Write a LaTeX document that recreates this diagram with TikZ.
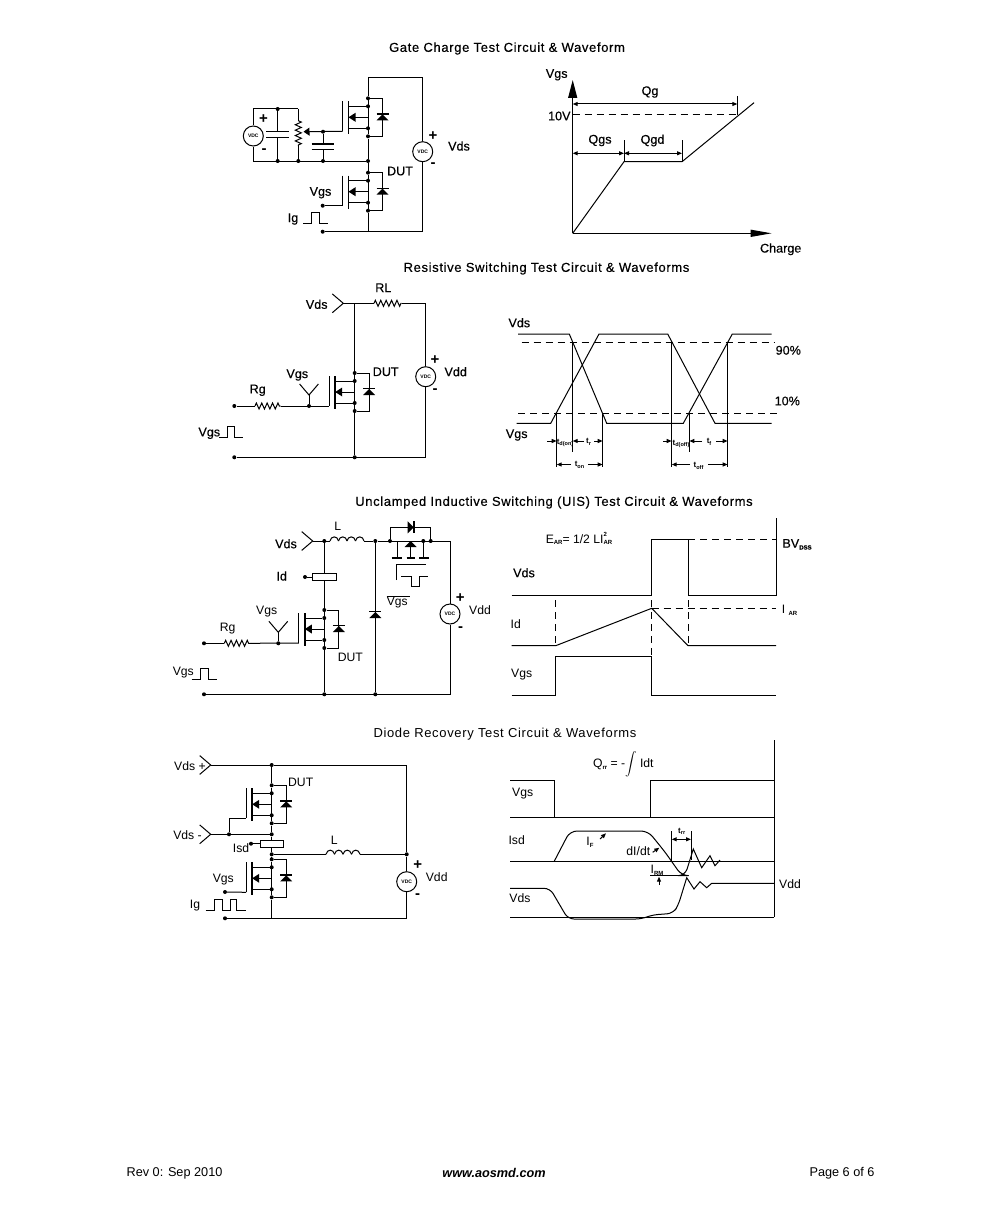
\documentclass[tikz,border=0pt]{standalone}
\usepackage{fontspec}
\setmainfont{Liberation Sans}
\newfontfamily\titlefont[LetterSpace=5,FakeBold=0.35]{Liberation Sans}
\newfontfamily\titlethin[LetterSpace=5]{Liberation Sans}
\newfontfamily\semifont[FakeBold=0.4]{Liberation Sans}
\usetikzlibrary{arrows.meta}
\usetikzlibrary{decorations.pathmorphing}
\usetikzlibrary{positioning}
\newcommand{\lowtxt}[1]{\raisebox{-1.8pt}{\fontsize{6}{6}\selectfont\bfseries #1}}
\newcommand{\tlab}[1]{t\raisebox{-1.5pt}{\fontsize{5.5}{5.5}\selectfont\bfseries #1}}
\tikzset{
  wire/.style={line width=1pt},
  dashw/.style={line width=1pt, dash pattern=on 7pt off 5pt},
  dotj/.style={circle, fill=black, inner sep=0pt, minimum size=4pt},
  resistor/.style={line width=1pt, decorate, decoration={zigzag, amplitude=3pt, segment length=5.4pt}},
  vdcsrc/.style={draw, circle, fill=white, line width=1pt, inner sep=0pt, minimum size=20pt, font=\fontsize{5}{5}\selectfont\bfseries},
  sensebox/.style={draw, fill=white, line width=1pt, inner sep=0pt, minimum width=23.4pt, minimum height=7.4pt},
  lab/.style={inner sep=0pt, yshift=-1pt, font=\fontsize{12.2}{12}\selectfont},
  labb/.style={inner sep=0pt, yshift=-1pt, font=\fontsize{12.6}{12}\selectfont\semifont},
  sym/.style={inner sep=0pt, font=\fontsize{15}{15}\selectfont\bfseries},
  tiny lab/.style={inner sep=0pt, font=\fontsize{8}{8}\selectfont\bfseries},
  title/.style={inner sep=0pt, yshift=-1.5pt, font=\fontsize{13}{13}\selectfont\titlefont},
  dim/.style={line width=1pt, {Triangle[length=5pt,width=4pt]}-{Triangle[length=5pt,width=4pt]}},
  tip/.style={line width=1pt, -{Triangle[length=5pt,width=4pt]}},
  diode/.pic={
    \fill (-6,3) -- (6,3) -- (0,-3) -- cycle;
    \draw[line width=1.4pt] (-6,-3.3) -- (6,-3.3);
  },
  capv/.pic={
    \coordinate (-t) at (0,-2.8);
    \coordinate (-b) at (0,2.8);
    \draw[line width=1.3pt] (-11.3,-2.8) -- (11.3,-2.8);
    \draw[line width=1.3pt] (-11.3,2.8) -- (11.3,2.8);
  },
  mosfet/.pic={
    \draw[line width=1.1pt] (-25.5,-16) -- (-25.5,14);
    \draw[line width=1.7pt] (-19.5,-16) -- (-19.5,17);
    \coordinate (-g) at (-25.5,14);
    \node[dotj] (-dt) at (0,-19) {};
    \node[dotj] (-d) at (0,-11) {};
    \node[dotj] (-s) at (0,11) {};
    \node[dotj] (-st) at (0,19) {};
    \draw[wire] (-dt) -- (-st);
    \draw[wire] (-19.5,-11) -- (-d);
    \draw[wire] (-19.5,11) -- (-s);
    \draw[wire] (-19.5,0) -- (0,0) -- (-s);
    \fill (-19.5,0) -- (-12.5,-4.5) -- (-12.5,4.5) -- cycle;
    \draw[wire] (-dt) -- (14.5,-19) -- (14.5,19) -- (-st);
    \pic at (14.5,0) {diode};
  },
  inductor/.pic={
    \coordinate (-l) at (0,0);
    \coordinate (-r) at (34,0);
    \foreach \n in {0,1,2,3}
      \draw[wire] ({\n*8.5},0) .. controls ({\n*8.5+1},-5.5) and ({\n*8.5+7.5},-5.5) .. ({\n*8.5+8.5},0);
  },
  probe/.pic={
    \coordinate (-c) at (0,0);
    \draw[wire] (-11,-9.4) -- (0,0) -- (-11,9.4);
  }
}
\begin{document}
\begin{tikzpicture}[x=1pt, y=-1pt]
\useasboundingbox (0,0) rectangle (991,1212);

% Titel
\node[title] (ttlA) at (507,47) {Gate Charge Test Circuit \& Waveform};
\node[title] (ttlB) at (546.5,267) {Resistive Switching Test Circuit \& Waveforms};
\node[title] (ttlC) at (554,501) {Unclamped Inductive Switching (UIS) Test Circuit \& Waveforms};
\node[title, font=\fontsize{13}{13}\selectfont\titlethin] (ttlD) at (505,733) {Diode Recovery Test Circuit \& Waveforms};

% Fusszeile
\node[inner sep=0pt, yshift=-1pt, font=\fontsize{12.7}{12.7}\selectfont] (ftA) at (174.5,1172) {Rev 0: Sep 2010};
\node[inner sep=0pt, yshift=-1pt, font=\fontsize{12.7}{12.7}\selectfont\bfseries\itshape] (ftB) at (494,1172) {www.aosmd.com};
\node[inner sep=0pt, yshift=-1pt, font=\fontsize{12.7}{12.7}\selectfont] (ftC) at (842,1172) {Page 6 of 6};

% Schaltung 1: Gate Charge
\pic (mA) at (368,117.3) {mosfet};
\pic (mB) at (368,191.7) {mosfet};
\node[vdcsrc] (vdcA) at (253.3,136) {VDC};
\node[vdcsrc] (vdcB) at (422.7,151.7) {VDC};
\node[dotj] (jA) at (368,161) {};
\node[dotj] (dotIg) at (322.7,231.7) {};
\node[dotj] (dotVgs) at (322.7,205.7) {};
\node[dotj] (cAt) at (277.7,109) {};
\node[dotj] (cAb) at (277.7,161) {};
\node[dotj] (potb) at (298.3,161) {};
\node[dotj] (cBt) at (323,131.7) {};
\node[dotj] (cBb) at (323,161) {};
\coordinate (topA) at (368,77.3);
\coordinate (pott) at (298.3,109);
\coordinate (zA) at (298.3,120.7);
\coordinate (zB) at (298.3,146);
\coordinate (wpA) at (303.5,131.7);
\pic (capA) at (277.7,134.5) {capv};
\pic (capB) at (323,146.7) {capv};
\draw[wire] (mA-dt) -- (topA) -| (vdcB.north);
\draw[wire] (vdcB.south) |- (dotIg);
\draw[wire] (mA-st) -- (jA) -- (mB-dt);
\draw[wire] (mB-st) -- (mB-st |- dotIg);
\draw[wire] (vdcA.north) |- (pott);
\draw[wire] (vdcA.south) |- (jA);
\draw[wire] (pott) -- (zA);
\draw[resistor] (zA) -- (zB);
\draw[wire] (zB) -- (potb);
\draw[wire, -{Triangle[length=6pt,width=8pt]}] (mA-g) -- (wpA);
\draw[wire] (cAt) -- (capA-t);
\draw[wire] (capA-b) -- (cAb);
\draw[wire] (cBt) -- (capB-t);
\draw[wire] (capB-b) -- (cBb);
\draw[wire] (dotVgs) -- (mB-g);
\draw[wire] (303,223.7) -- (311,223.7) -- (311,212.3) -- (319,212.3) -- (319,223.7) -- (328,223.7);
\foreach \nm/\x/\y/\txt in {laVds/459/145/Vds, laDUT/400/170/DUT, laVgs/320.5/191.7/Vgs, laIg/293/218/Ig}
  \node[labb] (\nm) at (\x,\y) {\txt};
\foreach \nm/\x/\y/\txt in {spA/263.5/119/+, smA/264/151/-, spB/433/136/+, smB/433/165/-}
  \node[sym] (\nm) at (\x,\y) {\txt};

% Diagramm 1: Gate Charge
\coordinate (orgA) at (572.7,233.3);
\draw[line width=1.2pt, -{Triangle[length=18pt,width=9pt]}] (orgA) -- (572.7,80);
\draw[line width=1.2pt, -{Triangle[length=21pt,width=7pt]}] (orgA) -- (771.7,233.3);
\draw[wire] (orgA) -- (624,161.7) -- (682,161.7) -- (754,102.7);
\draw[dashw] (572.7,115) -- (737,115);
\draw[dim] (572.7,104) -- (737.3,104);
\draw[dim] (572.7,153.3) -- (624,153.3);
\draw[dim] (624,153.3) -- (682,153.3);
\draw[wire] (737.3,96) -- (737.3,115);
\draw[wire] (624,140) -- (624,161.7);
\draw[wire] (682,140) -- (682,161.7);
\foreach \nm/\x/\y/\txt in {lbVgs/556.7/73.8/Vgs, lbTen/559.3/115/10V, lbQg/650/91/Qg, lbQgs/600/139.5/Qgs, lbQgd/652.5/139.5/Qgd, lbCh/780.7/248.3/Charge}
  \node[labb] (\nm) at (\x,\y) {\txt};

% Schaltung 2: Resistive Switching
\pic (mC) at (354.7,392) {mosfet};
\pic (prA) at (343.3,303.3) {probe};
\pic[rotate=-90] (prB) at (309,395) {probe};
\node[vdcsrc] (vdcC) at (425.7,376.7) {VDC};
\node[dotj] (dotRg) at (234.3,406) {};
\node[dotj] (dotGd) at (234.3,457.3) {};
\node[dotj] (jGd) at (354.7,457.3) {};
\node[dotj] (dotPr) at (309,406) {};
\coordinate (jVd) at (354.7,303.3);
\coordinate (rlA) at (374,303.3);
\coordinate (rlB) at (401.7,303.3);
\coordinate (rgA) at (255,406);
\coordinate (rgB) at (280.7,406);
\draw[wire] (prA-c) -- (rlA);
\draw[resistor] (rlA) -- (rlB);
\draw[wire] (rlB) -| (vdcC.north);
\draw[wire] (vdcC.south) |- (dotGd);
\draw[wire] (jVd) -- (mC-dt);
\draw[wire] (mC-st) -- (jGd);
\draw[wire] (dotRg) -- (rgA);
\draw[resistor] (rgA) -- (rgB);
\draw[wire] (rgB) -- (mC-g);
\draw[wire] (prB-c) -- (dotPr);
\draw[wire] (219.3,437.7) -- (227.3,437.7) -- (227.3,426.7) -- (234.3,426.7) -- (234.3,437.7) -- (243.3,437.7);
\foreach \nm/\x/\y/\txt in {lcVds/316.7/303.3/Vds, lcRL/383.3/286.7/RL, lcDUT/385.7/370.7/DUT, lcVdd/455.7/370.7/Vdd, lcVgs/297.3/374/Vgs, lcRg/257.7/389.3/Rg, lcVgsB/209.3/432.3/Vgs}
  \node[labb] (\nm) at (\x,\y) {\txt};
\foreach \nm/\x/\y/\txt in {spC/435/360/+, smC/435/390.7/-}
  \node[sym] (\nm) at (\x,\y) {\txt};

% Diagramm 2: Schaltzeiten
\draw[wire] (518,334) -- (569.3,334) -- (606.7,423.3) -- (683.3,423.3) -- (732.3,334) -- (771.7,334);
\draw[wire] (516.7,423.3) -- (550.7,423.3) -- (599,334) -- (667.7,334) -- (715,423.3) -- (771.7,423.3);
\draw[dashw] (521.7,342.7) -- (775,342.7);
\draw[dashw] (518.3,413.3) -- (780,413.3);
\foreach \x/\ya/\yb in {556.7/413.3/466.7, 572.7/342.7/451.7, 602.7/413.3/466.7, 671.7/342.7/466.7, 689.3/413.3/451.7, 727.7/342.7/466.7}
  \draw[wire] (\x,\ya) -- (\x,\yb);
\draw[tip] (547,441) -- (556.7,441);
\draw[tip] (584,441) -- (572.7,441);
\draw[tip] (594,441) -- (602.7,441);
\draw[tip] (663.3,441) -- (671.7,441);
\draw[tip] (702,441) -- (689.3,441);
\draw[tip] (716,441) -- (727.7,441);
\draw[tip] (571,464.5) -- (556.7,464.5);
\draw[tip] (588,464.5) -- (602.7,464.5);
\draw[tip] (690,464.5) -- (671.7,464.5);
\draw[tip] (708,464.5) -- (727.7,464.5);
\foreach \nm/\x/\y/\txt in {ldVds/519.3/321.7/Vds, ldVgs/516.7/434/Vgs, ldNin/788.3/349.3/90\%, ldTen/787.3/400/10\%}
  \node[labb] (\nm) at (\x,\y) {\txt};
\foreach \nm/\x/\y/\txt in {ldA/565/443/\tlab{d(on)}, ldB/588.5/442/\tlab{r}, ldC/681/444/\tlab{d(off)}, ldD/709/442/\tlab{f}, ldE/579.5/465/\tlab{on}, ldF/698.5/466/\tlab{off}}
  \node[tiny lab] (\nm) at (\x,\y) {\txt};

% Schaltung 3: UIS
\pic (mD) at (324.3,629) {mosfet};
\pic (prC) at (312.7,541) {probe};
\pic[rotate=-90] (prD) at (278.3,632.3) {probe};
\pic (indA) at (330,541) {inductor};
\pic at (375.3,615) {diode};
\pic[rotate=-90] at (410.7,527.3) {diode};
\node[vdcsrc] (vdcD) at (450,614) {VDC};
\node[sensebox] (boxId) at (324.3,577) {};
\node[dotj] (dotId) at (305,577) {};
\node[dotj] (dotRgB) at (204,643.3) {};
\node[dotj] (dotGdB) at (204,694.3) {};
\node[dotj] (jGdB) at (324.3,694.3) {};
\node[dotj] (jGdC) at (375.3,694.3) {};
\node[dotj] (jVdB) at (324.3,541) {};
\node[dotj] (jVdC) at (375.3,541) {};
\node[dotj] (jSwA) at (390,541) {};
\node[dotj] (jSwB) at (423.3,541) {};
\node[dotj] (jSwC) at (430.7,541) {};
\node[dotj] (dotPrB) at (278.3,643.3) {};
\coordinate (rgC) at (224.3,643.3);
\coordinate (rgD) at (251,643.3);
\coordinate (cnrC) at (450,541);
\draw[wire] (prC-c) -- (indA-l);
\draw[wire] (indA-r) -- (jVdC) -- (cnrC) -- (vdcD.north);
\draw[wire] (vdcD.south) |- (dotGdB);
\draw[wire] (jVdB) -- (boxId.north);
\draw[wire] (boxId.south) -- (mD-dt);
\draw[wire] (dotId) -- (boxId.west);
\draw[wire] (mD-st) -- (jGdB);
\draw[wire] (jVdC) -- (jGdC);
\draw[wire] (dotRgB) -- (rgC);
\draw[resistor] (rgC) -- (rgD);
\draw[wire] (rgD) -- (mD-g);
\draw[wire] (prD-c) -- (dotPrB);
\draw[wire] (jSwA) |- (jSwC |- 0,527.3) -- (jSwC);
% Schalter oben
\draw[wire] (397.3,541) -- (397.3,557.7);
\draw[wire] (423.3,541) -- (423.3,557.7);
\draw[wire] (410.7,557.7) -- (410.7,541) -- (jSwB);
\fill (410.7,541) -- (404.7,547) -- (416.7,547) -- cycle;
\foreach \xa/\xb in {391.7/402, 406.7/415, 419/429.3}
  \draw[line width=1.7pt] (\xa,557.7) -- (\xb,557.7);
\draw[wire] (396,580) -- (396,564) -- (426,564);
\draw[wire] (401,576.7) -- (411,576.7) -- (411,586.7) -- (419,586.7) -- (419,576.7) -- (427.7,576.7);
\draw[wire] (191.7,679) -- (200.3,679) -- (200.3,668.3) -- (208.7,668.3) -- (208.7,679) -- (216.7,679);
\foreach \nm/\x/\y/\txt in {leVds/286/542.7/Vds, leId/281.7/575/Id}
  \node[labb] (\nm) at (\x,\y) {\txt};
\foreach \nm/\x/\y/\txt in {leL/337.7/525/L, leVgs/266.7/611/Vgs, leRg/227.7/627.7/Rg, leDUT/350.3/656/DUT, leVgsB/183.3/671.7/Vgs, leVdd/480/609.3/Vdd}
  \node[lab] (\nm) at (\x,\y) {\txt};
\node[lab] (leVgsC) at (398.3,601) {$\overline{\mbox{\fontsize{12}{12}\selectfont Vgs\,}}$};
\foreach \nm/\x/\y/\txt in {spD/460.3/597.7/+, smD/460.7/629/-}
  \node[sym] (\nm) at (\x,\y) {\txt};

% Diagramm 3: UIS
\draw[wire] (776,518.3) -- (776,595.7);
\draw[wire] (511.7,595.7) -- (651.7,595.7) -- (651.7,539) -- (688,539) -- (688,595.7) -- (776,595.7);
\draw[wire] (511.7,645.7) -- (555.7,645.7) -- (651.7,608.3) -- (688,645.7) -- (776,645.7);
\draw[wire] (511.7,695) -- (555.7,695) -- (555.7,656.7) -- (651.7,656.7) -- (651.7,695) -- (776,695);
\draw[dashw] (688,539) -- (776,539);
\draw[dashw] (651.7,608.3) -- (776,608.3);
\draw[dashw] (555.7,600) -- (555.7,645.7);
\draw[dashw] (651.7,600) -- (651.7,656.7);
\draw[dashw] (688,600) -- (688,645.7);
\node[lab] (lfEar) at (579,538.5) {E\lowtxt{AR}= 1/2 LI\raisebox{0pt}[0pt][0pt]{\rlap{\raisebox{7pt}{\fontsize{6}{6}\selectfont\bfseries 2}}}\lowtxt{AR}};
\node[labb] (lfBv) at (797,543.3) {BV\lowtxt{DSS}};
\node[lab] (lfIar) at (789.5,609) {I \lowtxt{AR}};
\node[labb] (lfVds) at (524,571.7) {Vds};
\node[lab] (lfId) at (515.7,622.7) {Id};
\node[lab] (lfVgs) at (521.7,674) {Vgs};

% Schaltung 4: Diode Recovery
\pic (mE) at (271.7,804.3) {mosfet};
\pic (mF) at (271.7,878.3) {mosfet};
\pic (prE) at (210.7,765) {probe};
\pic (prF) at (210.7,834.3) {probe};
\pic (indB) at (326,854.3) {inductor};
\node[vdcsrc] (vdcE) at (406.7,881.7) {VDC};
\node[sensebox] (boxIsd) at (271.7,843.7) {};
\node[dotj] (dotIsd) at (251,843.7) {};
\node[dotj] (jTop) at (271.7,765) {};
\node[dotj] (jMid) at (271.7,834.3) {};
\node[dotj] (jGt) at (229,834.3) {};
\node[dotj] (jLo) at (271.7,854.3) {};
\node[dotj] (jRt) at (406.7,854.3) {};
\node[dotj] (dotVgsE) at (225,892) {};
\node[dotj] (dotIgE) at (225,918.3) {};
\coordinate (cnrE) at (406.7,765);
\coordinate (gtE) at (229,818.3);
\draw[wire] (prE-c) -- (jTop) -- (cnrE) -- (jRt) -- (vdcE.north);
\draw[wire] (vdcE.south) |- (dotIgE);
\draw[wire] (jTop) -- (mE-dt);
\draw[wire] (mE-st) -- (jMid) -- (boxIsd.north);
\draw[wire] (boxIsd.south) -- (jLo) -- (mF-dt);
\draw[wire] (mF-st) -- (mF-st |- dotIgE);
\draw[wire] (prF-c) -- (jGt) -- (jMid);
\draw[wire] (jGt) -- (gtE) -- (mE-g);
\draw[wire] (dotIsd) -- (boxIsd.west);
\draw[wire] (jLo) -- (indB-l);
\draw[wire] (indB-r) -- (jRt);
\draw[wire] (dotVgsE) -- (mF-g);
\draw[wire] (205.7,910) -- (214.3,910) -- (214.3,899.3) -- (222.3,899.3) -- (222.3,910) -- (230.7,910) -- (230.7,899.3) -- (236,899.3) -- (236,910) -- (245.7,910);
\foreach \nm/\x/\y/\txt in {lgVdsA/190/765/Vds +, lgVdsB/187.5/834.3/Vds -, lgDUT/300.7/781.7/DUT, lgIsd/241/846.7/Isd, lgL/334.3/839.3/L, lgVgs/223.3/879/Vgs, lgIg/195/904.3/Ig, lgVdd/436.7/876/Vdd}
  \node[lab] (\nm) at (\x,\y) {\txt};
\foreach \nm/\x/\y/\txt in {spE/417.7/865/+, smE/417.7/895.7/-}
  \node[sym] (\nm) at (\x,\y) {\txt};

% Diagramm 4: Diode Recovery
\draw[wire] (774.3,740) -- (774.3,917.3);
\draw[wire] (510,780) -- (554,780) -- (554,817.3);
\draw[wire] (650,817.3) -- (650,780) -- (774.3,780);
\foreach \y in {817.3, 861.7, 917.3}
  \draw[wire] (510,\y) -- (774.3,\y);
\draw[wire, rounded corners=7pt] (554,861.7) -- (570,831) -- (648,831) -- (665,852) -- (681.7,875.7) -- (685,875.7) [sharp corners] -- (693.3,849) -- (701.7,867.7) -- (710,855.7) -- (715,865.7) -- (720,860);
\draw[wire, rounded corners=6pt] (510,888.3) -- (550,888.3) -- (568,919) -- (641.7,919) -- (651.7,915) -- (673.3,913.3) -- (678.3,905) [sharp corners] -- (686.7,877.7) -- (694,889) -- (700,881.7) -- (706.7,887.7) -- (711.7,883.3) -- (774.3,883.3);
\draw[wire] (650,875.7) -- (685,875.7);
\draw[tip] (659,885) -- (659,876.7);
\draw[wire] (671.7,831) -- (671.7,861.7);
\draw[wire] (691,831) -- (691,860);
\draw[dim] (671.7,839.3) -- (691,839.3);
\draw[tip] (600,839) -- (606,833.3);
\draw[tip] (652.7,852.3) -- (659.3,847.7);
\node[lab] (lhQrr) at (623.3,763.3) {Q\lowtxt{rr} = -\scalebox{1.15}{$\displaystyle\int$} Idt};
\foreach \nm/\x/\y/\txt in {lhVgs/522.7/792.3/Vgs, lhIsd/516.7/839/Isd, lhDi/{638.3}/850/{dI/dt}, lhVds/520/897.3/Vds, lhVdd/790/883.3/Vdd}
  \node[lab] (\nm) at (\x,\y) {\txt};
\node[lab] (lhIf) at (590,841) {I\lowtxt{F}};
\node[lab] (lhIrm) at (657,869) {I\lowtxt{RM}};
\node[tiny lab] (lhTrr) at (681.7,831.5) {\tlab{rr}};

\end{tikzpicture}
\end{document}
